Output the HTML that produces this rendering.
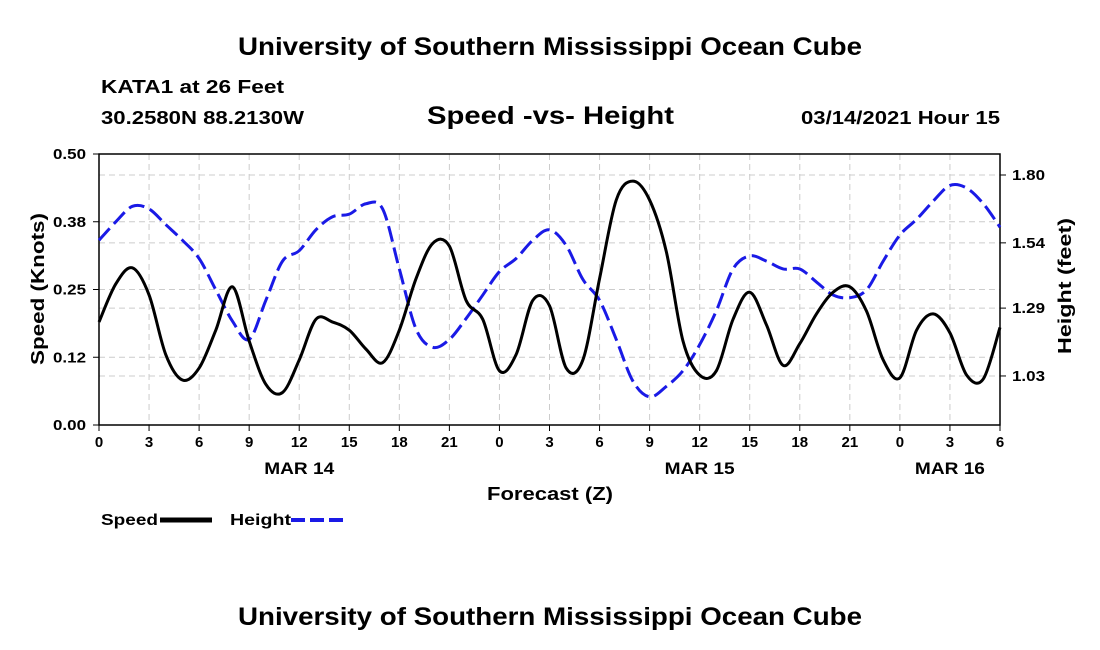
<!DOCTYPE html>
<html><head><meta charset="utf-8"><style>body{margin:0;background:#fff}svg{display:block;font-family:"Liberation Sans",Arial,sans-serif}</style></head>
<body>
<svg id="c" width="1100" height="650">
<text x="238" y="55" font-size="25" font-weight="bold" textLength="624" lengthAdjust="spacingAndGlyphs">University of Southern Mississippi Ocean Cube</text>
<text x="101" y="93" font-size="18" font-weight="bold" textLength="183" lengthAdjust="spacingAndGlyphs">KATA1 at 26 Feet</text>
<text x="101" y="124" font-size="18" font-weight="bold" textLength="203" lengthAdjust="spacingAndGlyphs">30.2580N 88.2130W</text>
<text x="427" y="124" font-size="25" font-weight="bold" textLength="247" lengthAdjust="spacingAndGlyphs">Speed -vs- Height</text>
<text x="801" y="124" font-size="18" font-weight="bold" textLength="199" lengthAdjust="spacingAndGlyphs">03/14/2021 Hour 15</text>
<text x="238" y="625" font-size="25" font-weight="bold" textLength="624" lengthAdjust="spacingAndGlyphs">University of Southern Mississippi Ocean Cube</text>
<g id="grid"></g><g id="axes"></g><g id="series"></g>
<text x="487" y="500" font-size="18" font-weight="bold" textLength="126" lengthAdjust="spacingAndGlyphs">Forecast (Z)</text>
<text transform="translate(44,365) rotate(-90)" font-size="18" font-weight="bold" textLength="152" lengthAdjust="spacingAndGlyphs">Speed (Knots)</text>
<text transform="translate(1071,354) rotate(-90)" font-size="18" font-weight="bold" textLength="136" lengthAdjust="spacingAndGlyphs">Height (feet)</text>
<g>
<text x="101" y="525" font-size="16" font-weight="bold" textLength="57" lengthAdjust="spacingAndGlyphs">Speed</text>
<line x1="160" y1="520" x2="212" y2="520" stroke="#000" stroke-width="5"/>
<text x="230" y="525" font-size="16" font-weight="bold" textLength="61" lengthAdjust="spacingAndGlyphs">Height</text>
<line x1="291" y1="520" x2="343" y2="520" stroke="#1a1ae6" stroke-width="4" stroke-dasharray="14,5"/>
</g>
</svg>
<script>
const hours=[];for(let i=0;i<=54;i++)hours.push(i);
const speed=[0.19,0.26,0.29,0.24,0.13,0.083,0.105,0.175,0.255,0.155,0.075,0.06,0.12,0.195,0.19,0.175,0.14,0.115,0.175,0.27,0.335,0.33,0.23,0.195,0.1,0.13,0.23,0.22,0.105,0.12,0.27,0.415,0.45,0.415,0.32,0.155,0.092,0.1,0.195,0.245,0.185,0.11,0.15,0.205,0.245,0.255,0.21,0.12,0.087,0.175,0.205,0.17,0.092,0.085,0.18];
const height=[1.55,1.62,1.68,1.67,1.61,1.55,1.48,1.36,1.24,1.17,1.32,1.47,1.51,1.59,1.64,1.65,1.69,1.67,1.44,1.21,1.14,1.17,1.25,1.34,1.43,1.48,1.55,1.59,1.53,1.40,1.32,1.17,1.01,0.95,0.99,1.05,1.15,1.28,1.44,1.49,1.47,1.44,1.44,1.39,1.34,1.33,1.36,1.47,1.57,1.63,1.70,1.76,1.75,1.69,1.60];
const leftTicks=[0,0.125,0.25,0.375,0.5];
const leftLabels=["0.00","0.12","0.25","0.38","0.50"];
const rightTicks=[1.03,1.29,1.54,1.80];
const rightLabels=["1.03","1.29","1.54","1.80"];
const xTicks=[0,3,6,9,12,15,18,21,24,27,30,33,36,39,42,45,48,51,54];
const dayLabels=[{h:12,t:"MAR 14"},{h:36,t:"MAR 15"},{h:51,t:"MAR 16"}];
const X0=99,X1=1000,Y0=425,Y1=154;
const xs=h=>X0+(X1-X0)*h/54;
const yL=v=>Y0-(Y0-Y1)*v/0.5;
const yR=v=>175+(1.80-v)*261;
const NS="http://www.w3.org/2000/svg";
function mk(p,tag,a){const e=document.createElementNS(NS,tag);for(const k in a)e.setAttribute(k,a[k]);p.appendChild(e);return e;}
const grid=document.getElementById('grid'),axes=document.getElementById('axes'),ser=document.getElementById('series');
xTicks.forEach(h=>{const l=mk(grid,'line',{x1:xs(h),x2:xs(h),y1:Y1,y2:Y0,stroke:'#ccc','stroke-dasharray':'6,4'});


mk(axes,'line',{x1:xs(h),x2:xs(h),y1:Y0,y2:Y0+6,stroke:'#000'});
const tx=mk(axes,'text',{x:xs(h),y:Y0+22,'text-anchor':'middle','font-size':15,'font-weight':'bold'});tx.textContent=String(h%24);

});
dayLabels.forEach(d=>{const tx=mk(axes,'text',{x:xs(d.h),y:Y0+49,'text-anchor':'middle','font-size':17,'font-weight':'bold',textLength:70,lengthAdjust:'spacingAndGlyphs'});tx.textContent=d.t;

});
leftTicks.forEach((v,i)=>{const y=yL(v);if(i>0&&i<4){const l=mk(grid,'line',{x1:X0,x2:X1,y1:y,y2:y,stroke:'#ccc','stroke-dasharray':'6,4'});

}
mk(axes,'line',{x1:X0-6,x2:X0,y1:y,y2:y,stroke:'#000'});
const tx=mk(axes,'text',{x:X0-13,y:y+5,'text-anchor':'end','font-size':15,'font-weight':'bold',textLength:33,lengthAdjust:'spacingAndGlyphs'});tx.textContent=leftLabels[i];

});
rightTicks.forEach((v,i)=>{const y=yR(v);const l=mk(grid,'line',{x1:X0,x2:X1,y1:y,y2:y,stroke:'#ccc','stroke-dasharray':'6,4'});


mk(axes,'line',{x1:X1,x2:X1+6,y1:y,y2:y,stroke:'#000'});
const tx=mk(axes,'text',{x:X1+12,y:y+5,'font-size':15,'font-weight':'bold',textLength:33,lengthAdjust:'spacingAndGlyphs'});tx.textContent=rightLabels[i];

});
const fr=mk(axes,'rect',{x:X0,y:Y1,width:X1-X0,height:Y0-Y1,fill:'none',stroke:'#000','stroke-width':1.5});


function smooth(pts){let d=`M${pts[0][0]},${pts[0][1]}`;for(let i=0;i<pts.length-1;i++){const p0=pts[i-1]||pts[i],p1=pts[i],p2=pts[i+1],p3=pts[i+2]||p2;
d+=` C${p1[0]+(p2[0]-p0[0])/6},${p1[1]+(p2[1]-p0[1])/6} ${p2[0]-(p3[0]-p1[0])/6},${p2[1]-(p3[1]-p1[1])/6} ${p2[0]},${p2[1]}`;}return d;}
const hp=mk(ser,'path',{d:smooth(hours.map((h,i)=>[xs(h),yR(height[i])])),fill:'none',stroke:'#1a1ae6','stroke-width':3,'stroke-dasharray':'16,6'});


const sp=mk(ser,'path',{d:smooth(hours.map((h,i)=>[xs(h),yL(speed[i])])),fill:'none',stroke:'#000','stroke-width':3});


</script>
</body></html>
